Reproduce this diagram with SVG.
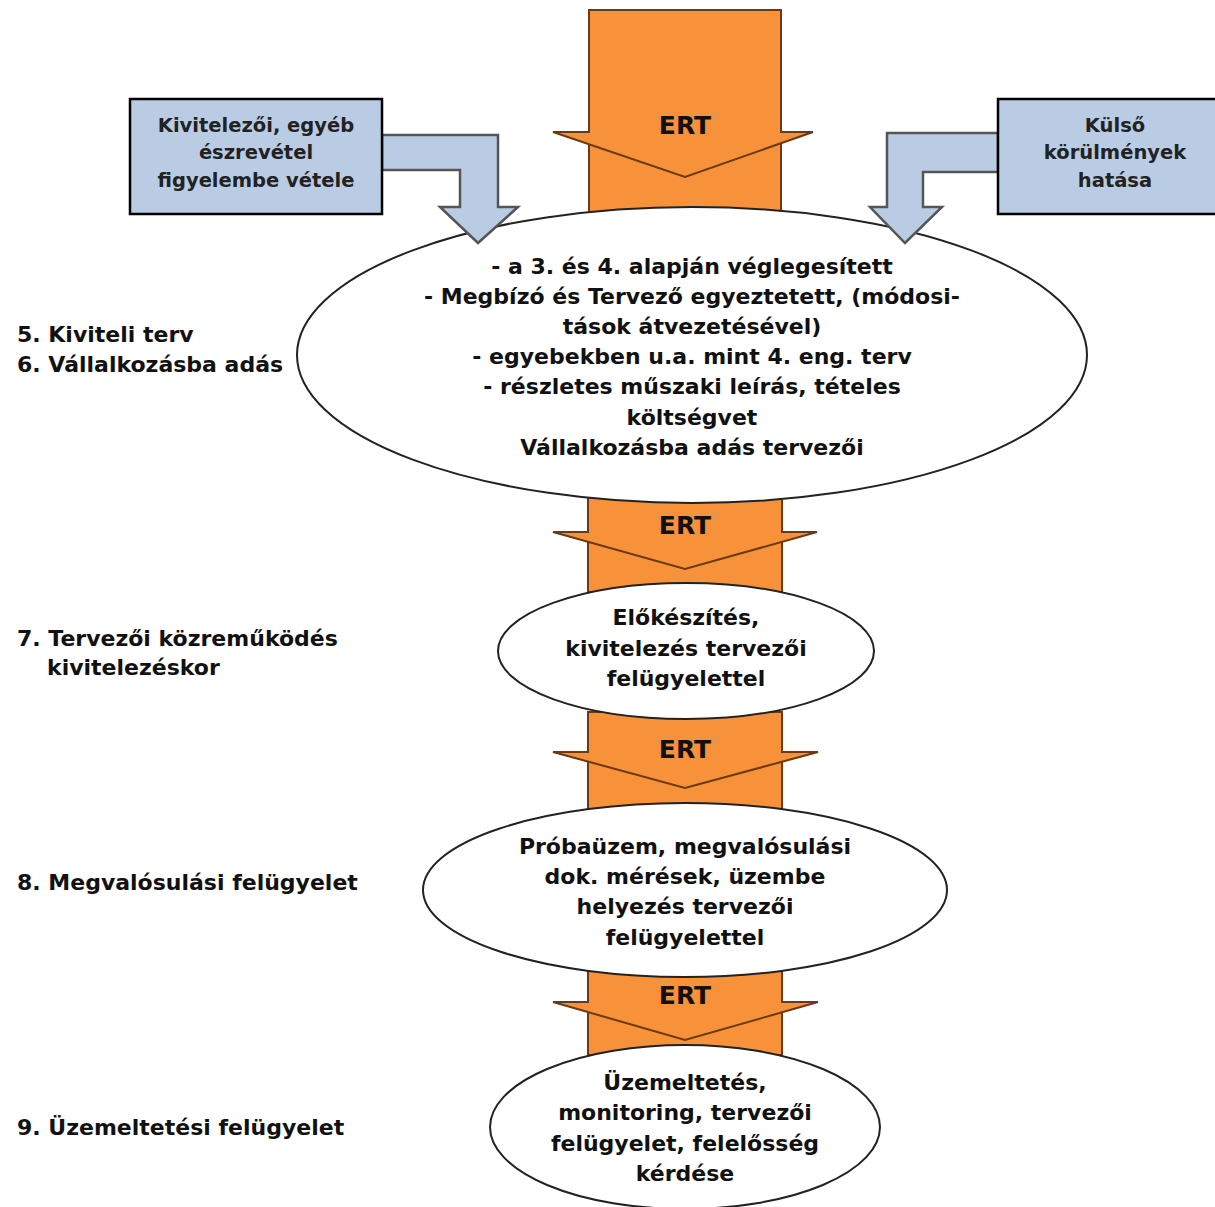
<svg xmlns="http://www.w3.org/2000/svg" width="1215" height="1207" viewBox="0 0 1215 1207">
<style>
.or{fill:#f7923a;stroke:#6b3a12;stroke-width:2;stroke-linejoin:miter}
.bl{fill:#b9cce4;stroke:#555;stroke-width:2.5}
.box{fill:#b9cce4;stroke:#000;stroke-width:2.5}
.el{fill:#fff;stroke:#222;stroke-width:2}
text{font-family:"DejaVu Sans","Liberation Sans",sans-serif;fill:#111;font-weight:bold}
.t{font-size:22px;text-anchor:middle}
.lb{font-size:22px}
.bx{font-size:19.5px;text-anchor:middle;fill:#222}
.ert{font-size:25px;text-anchor:middle;fill:#111}
</style>
<rect width="1215" height="1207" fill="#fff"/>
<g id="connectors">
  <rect class="or" x="589" y="130" width="192" height="90"/>
  <polygon class="or" points="589,10 781,10 781,132 813,132 685,177 553,132 589,132"/>
  <rect class="or" x="588" y="530" width="194" height="62"/>
  <polygon class="or" points="588,495 782,495 782,532 817,532 685,569 553,532 588,532"/>
  <rect class="or" x="588" y="750" width="194" height="62"/>
  <polygon class="or" points="588,712 782,712 782,752 818,752 685,788 553,752 588,752"/>
  <rect class="or" x="588" y="1000" width="194" height="55"/>
  <polygon class="or" points="588,968 782,968 782,1002 818,1002 685,1040 553,1002 588,1002"/>
</g>
<g id="n1"><ellipse class="el" cx="692" cy="355" rx="395" ry="148"/>
<text class="t" x="692" y="274">- a 3. és 4. alapján véglegesített</text>
<text class="t" x="692" y="304">- Megbízó és Tervező egyeztetett, (módosi-</text>
<text class="t" x="692" y="334">tások átvezetésével)</text>
<text class="t" x="692" y="364">- egyebekben u.a. mint 4. eng. terv</text>
<text class="t" x="692" y="394">- részletes műszaki leírás, tételes</text>
<text class="t" x="692" y="425">költségvet</text>
<text class="t" x="692" y="455">Vállalkozásba adás tervezői</text>
</g>
<g id="n2"><ellipse class="el" cx="686" cy="651" rx="188" ry="68"/>
<text class="t" x="686" y="625">Előkészítés,</text>
<text class="t" x="686" y="656">kivitelezés tervezői</text>
<text class="t" x="686" y="686">felügyelettel</text>
</g>
<g id="n3"><ellipse class="el" cx="685" cy="890" rx="262" ry="87"/>
<text class="t" x="685" y="854">Próbaüzem, megvalósulási</text>
<text class="t" x="685" y="884">dok. mérések, üzembe</text>
<text class="t" x="685" y="914">helyezés tervezői</text>
<text class="t" x="685" y="945">felügyelettel</text>
</g>
<g id="n4"><ellipse class="el" cx="685" cy="1127" rx="195" ry="82"/>
<text class="t" x="685" y="1090">Üzemeltetés,</text>
<text class="t" x="685" y="1120">monitoring, tervezői</text>
<text class="t" x="685" y="1151">felügyelet, felelősség</text>
<text class="t" x="685" y="1181">kérdése</text>
</g>
<g id="ert-labels">
<text class="ert" x="685" y="134">ERT</text>
<text class="ert" x="685" y="534">ERT</text>
<text class="ert" x="685" y="758">ERT</text>
<text class="ert" x="685" y="1004">ERT</text>
</g>
<g id="bent-arrows">
  <polygon class="bl" points="382,135 498,135 498,207 518,207 478,243 440,207 460,207 460,170 382,170"/>
  <polygon class="bl" points="998,133 887,133 887,207 870,207 905,243 942,207 923,207 923,172 998,172"/>
</g>
<g id="box-left"><rect class="box" x="130" y="99" width="252" height="115"/>
<text class="bx" x="256" y="132">Kivitelezői, egyéb</text>
<text class="bx" x="256" y="159">észrevétel</text>
<text class="bx" x="256" y="187">figyelembe vétele</text>
</g>
<g id="box-right"><rect class="box" x="998" y="99" width="220" height="115"/>
<text class="bx" x="1115" y="132">Külső</text>
<text class="bx" x="1115" y="159">körülmények</text>
<text class="bx" x="1115" y="187">hatása</text>
</g>
<g id="stage-labels">
<text class="lb" x="17" y="342">5. Kiviteli terv</text>
<text class="lb" x="17" y="372">6. Vállalkozásba adás</text>
<text class="lb" x="17" y="646">7. Tervezői közreműködés</text>
<text class="lb" x="47" y="675">kivitelezéskor</text>
<text class="lb" x="17" y="890">8. Megvalósulási felügyelet</text>
<text class="lb" x="17" y="1135">9. Üzemeltetési felügyelet</text>
</g>
</svg>
